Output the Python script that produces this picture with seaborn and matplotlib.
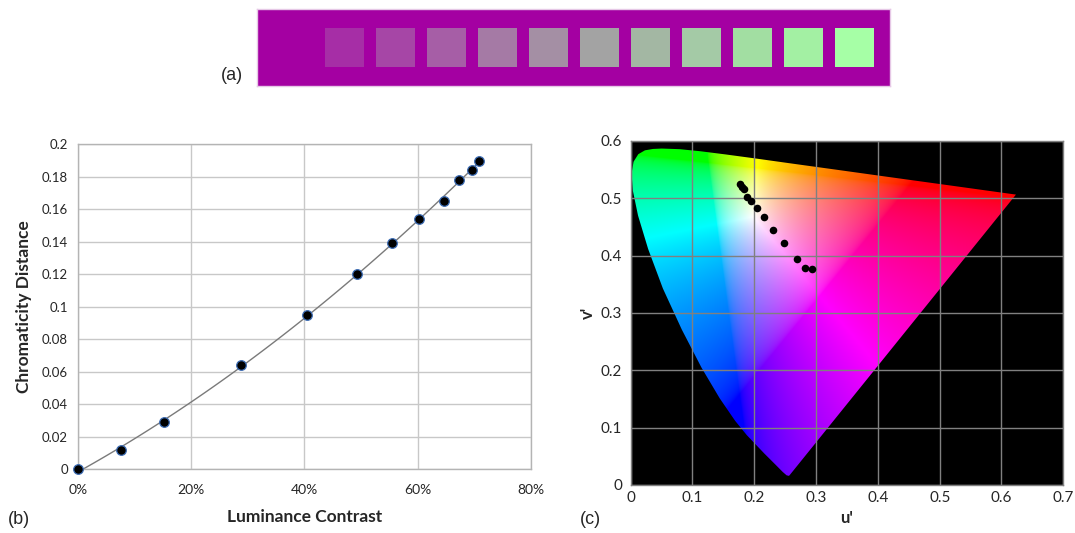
import matplotlib
matplotlib.use("Agg")
import matplotlib.pyplot as plt
import matplotlib.ticker as mticker
from matplotlib.patches import Polygon
import numpy as np
import pandas as pd
import seaborn as sns

# (a) colour patches on the magenta background
strip_background = '#a400a2'
patch_colors = ['#a62ea6', '#a646a6', '#a65ea6', '#a57aa5', '#a48fa4', '#a3a3a3',
                '#a3b7a3', '#a4caa6', '#a2dea2', '#a3f0a3', '#a6ffa6']

# (b) luminance contrast vs chromaticity distance
contrast = [0.0, 0.0765, 0.153, 0.288, 0.405, 0.493, 0.555, 0.602, 0.646, 0.673, 0.695, 0.708]
chroma_dist = [0.0, 0.0115, 0.0289, 0.0642, 0.0948, 0.120, 0.139, 0.154, 0.165, 0.178, 0.184, 0.190]

# (c) measured points in CIE 1976 u'v'
u_pts = [0.1772, 0.1793, 0.1826, 0.1886, 0.1951, 0.2049, 0.2158, 0.2299, 0.2478, 0.2690, 0.2815, 0.2935]
v_pts = [0.5249, 0.5202, 0.5156, 0.5029, 0.4954, 0.4838, 0.4671, 0.4451, 0.4220, 0.3936, 0.3786, 0.3763]

# spectral locus outline (380 nm ... 700 nm)
locus_u = [0.2568, 0.2557, 0.2522, 0.2461, 0.2347, 0.2161, 0.1877, 0.1690, 0.1441, 0.1147,
           0.0828, 0.0521, 0.0282, 0.0119, 0.0035, 0.0014, 0.0046, 0.0123, 0.0231, 0.0360,
           0.0501, 0.0792, 0.1127, 0.1531, 0.2026, 0.2623, 0.3315, 0.4035, 0.5203, 0.6005, 0.6234]
locus_v = [0.0166, 0.0159, 0.0169, 0.0226, 0.0350, 0.0550, 0.0871, 0.1119, 0.1510, 0.2044,
           0.2708, 0.3427, 0.4117, 0.4698, 0.5131, 0.5432, 0.5638, 0.5770, 0.5837, 0.5861,
           0.5868, 0.5857, 0.5821, 0.5766, 0.5694, 0.5604, 0.5501, 0.5393, 0.5219, 0.5099, 0.5065]

sns.set_style('whitegrid')
plt.rcParams['font.family'] = ['Lato', 'DejaVu Sans']

fig = plt.figure(figsize=(10.75, 5.33), dpi=100)

# ---- (a)
ax_a = fig.add_axes([0.2391, 0.8386, 0.5888, 0.1445])
ax_a.set_facecolor(strip_background)
first_left, pitch, sq_w = 0.108, 0.0805, 0.0614
lefts = [first_left + i * pitch for i in range(len(patch_colors))]
ax_a.bar(lefts, 0.511, bottom=0.247, width=sq_w, align='edge', color=patch_colors,
         edgecolor='none')
ax_a.set_xlim(0, 1)
ax_a.set_ylim(0, 1)
ax_a.set_xticks([])
ax_a.set_yticks([])
ax_a.grid(False)
for s in ax_a.spines.values():
    s.set_color('#e6c8e6')
    s.set_linewidth(1)

# ---- (b)
ax_b = fig.add_axes([0.0723, 0.1201, 0.4217, 0.6092])
df_b = pd.DataFrame({'contrast': contrast, 'dist': chroma_dist})
sns.regplot(data=df_b, x='contrast', y='dist', order=2, ci=None, scatter=False,
            line_kws=dict(color='#7a7a7a', lw=1), ax=ax_b)
sns.scatterplot(data=df_b, x='contrast', y='dist', color='black', edgecolor='#3d6db5',
                s=48, linewidth=0.9, zorder=3, ax=ax_b, clip_on=False)
ax_b.set_xlim(0, 0.8)
ax_b.set_ylim(0, 0.2)
ax_b.set_xticks(np.arange(0, 0.81, 0.2))
ax_b.set_yticks(np.arange(0, 0.201, 0.02))
ax_b.xaxis.set_major_formatter(mticker.FuncFormatter(lambda v, p: f'{v*100:.0f}%'))
ax_b.yaxis.set_major_formatter(mticker.FuncFormatter(lambda v, p: f'{round(v, 2):g}'))
ax_b.grid(True, color='#c8c8c8', lw=1)
for s in ax_b.spines.values():
    s.set_color('#b4b4b4')
    s.set_linewidth(1)
ax_b.tick_params(axis='x', length=0, pad=11, labelsize=10)
ax_b.tick_params(axis='y', length=0, pad=7, labelsize=9.5)
ax_b.set_xlabel('Luminance Contrast', fontsize=12.5, fontweight='bold', labelpad=9)
ax_b.set_ylabel('Chromaticity Distance', fontsize=12.5, fontweight='bold', labelpad=7)

# ---- (c)
ax_c = fig.add_axes([0.5867, 0.0901, 0.4024, 0.6454])
ax_c.set_facecolor('black')
uu, vv = np.meshgrid(np.linspace(0, 0.7, 700), np.linspace(0, 0.6, 600))
den = 6 * uu - 16 * vv + 12
cx = 9 * uu / den
cy = np.clip(4 * vv / den, 1e-4, None)
X = cx / cy
Z = (1 - cx - cy) / cy
M = np.array([[3.2406, -1.5372, -0.4986],
              [-0.9689, 1.8758, 0.0415],
              [0.0557, -0.2040, 1.0570]])
xyz = np.stack([X, np.ones_like(X), Z], axis=-1)
rgb = np.clip(xyz @ M.T, 0, None)
rgb = rgb / (rgb.max(axis=-1, keepdims=True) + 1e-9)
rgb = np.where(rgb <= 0.0031308, 12.92 * rgb, 1.055 * rgb ** (1 / 2.4) - 0.055)
im = ax_c.imshow(rgb, origin='lower', extent=[0, 0.7, 0, 0.6], aspect='auto', zorder=0)
gamut = Polygon(np.column_stack([locus_u, locus_v]), closed=True, facecolor='none',
                edgecolor='none', transform=ax_c.transData)
ax_c.add_patch(gamut)
im.set_clip_path(gamut)

sns.scatterplot(x=u_pts, y=v_pts, color='black', s=30, linewidth=0, zorder=3, ax=ax_c)
ax_c.set_xlim(0, 0.7)
ax_c.set_ylim(0, 0.6)
ax_c.set_xticks(np.arange(0, 0.71, 0.1))
ax_c.set_yticks(np.arange(0, 0.61, 0.1))
ax_c.xaxis.set_major_formatter(mticker.FuncFormatter(lambda v, p: f'{round(v, 1):g}'))
ax_c.yaxis.set_major_formatter(mticker.FuncFormatter(lambda v, p: f'{round(v, 1):g}'))
ax_c.grid(True, color='#808080', lw=1)
for s in ax_c.spines.values():
    s.set_color('#808080')
    s.set_linewidth(1)
ax_c.tick_params(axis='x', length=0, pad=4, labelsize=11)
ax_c.tick_params(axis='y', length=0, pad=6, labelsize=11)
ax_c.set_xlabel("u'", fontsize=12, fontweight='bold', labelpad=4)
ax_c.set_ylabel("v'", fontsize=12, fontweight='bold', labelpad=4)

# panel letters
for label, px, py in [('(a)', 232, 75), ('(b)', 19, 519), ('(c)', 590, 519)]:
    fig.text(px / 1075, 1 - py / 533, label, fontsize=13, family='Liberation Sans',
             ha='center', va='center')

fig.savefig('out.png', dpi=100)
